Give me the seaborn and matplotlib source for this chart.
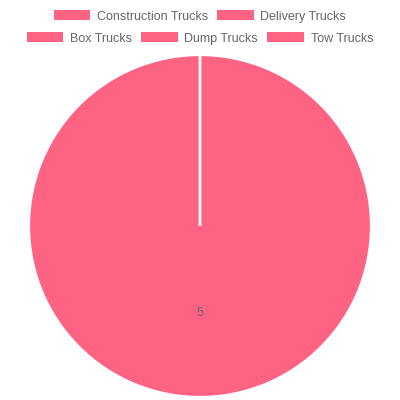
import matplotlib
matplotlib.use("Agg")
import matplotlib.pyplot as plt
import seaborn as sns
from matplotlib.patches import Rectangle

# data
categories = ["Construction Trucks", "Delivery Trucks", "Box Trucks", "Dump Trucks", "Tow Trucks"]
counts = [5, 0, 0, 0, 0]

sns.set_theme(style="white")
plt.rcParams["font.family"] = ["Liberation Sans", "DejaVu Sans"]

pink = "#FF6384"
colors = [pink] * len(categories)
total = sum(counts)

fig = plt.figure(figsize=(4, 4), dpi=100)
ax = fig.add_axes([0.0725, 0.0075, 0.855, 0.855])

wedges, texts, autotexts = ax.pie(
    counts,
    colors=colors,
    startangle=90,
    counterclock=False,
    autopct=lambda p: f"{p * total / 100:.0f}" if p > 0 else "",
    pctdistance=0.51,
    wedgeprops={"edgecolor": "white", "linewidth": 1.6},
    textprops={"color": "#666666", "fontsize": 9},
)
ax.set_xlim(-1, 1)
ax.set_ylim(-1, 1)
ax.set_aspect("equal")
ax.axis("off")


def legend_row(names, y):
    handles = [Rectangle((0, 0), 1, 1, facecolor=pink, edgecolor="none") for _ in names]
    leg = fig.legend(
        handles, names, loc="center", bbox_to_anchor=(0.5, y), ncol=len(names),
        frameon=False, fontsize=9, handlelength=2.9, handleheight=0.85,
        handletextpad=0.55, columnspacing=0.75, labelcolor="#666666",
        borderaxespad=0, borderpad=0,
    )
    return leg


legend_row(categories[:2], 1 - 16.5 / 400)
legend_row(categories[2:], 1 - 38.5 / 400)

fig.savefig("out.png", dpi=100)
